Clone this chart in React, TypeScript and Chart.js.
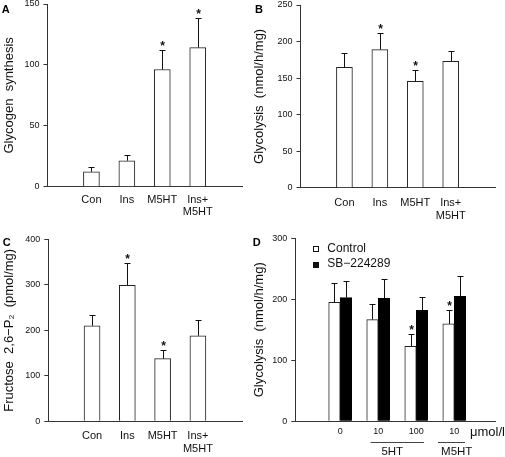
import React, { useEffect, useRef } from 'react';
import { Chart, registerables } from 'chart.js';

Chart.register(...registerables);

const FONT = "'Liberation Sans', Arial, Helvetica, sans-serif";
const AXIS = '#333333';
const TEXT = '#111111';

// ---- data ----
const treatmentLabels: (string | string[])[] = ['Con', 'Ins', 'M5HT', ['Ins+', 'M5HT']];

const glycogenMean = [12.3, 21.3, 96.2, 114.2];
const glycogenSem = [3.5, 4.7, 15.8, 24.6];
const glycogenSig = [false, false, true, true];

const glycolysisMean = [164.7, 188.9, 145.5, 172.9];
const glycolysisSem = [20.1, 22.8, 16.0, 13.7];
const glycolysisSig = [false, true, true, false];

const f26Mean = [210, 299, 137.7, 188];
const f26Sem = [23.7, 49.7, 18.3, 34.7];
const f26Sig = [false, true, true, false];

const doseLabels = ['0', '10', '100', '10'];
const controlMean = [195, 166.7, 123, 159.6];
const controlSem = [31.2, 25.1, 19.6, 23.4];
const controlSig = [false, false, true, true];
const sbMean = [202.7, 201.6, 182, 205];
const sbSem = [27.9, 31.7, 21.3, 32.7];
const sbSig = [false, false, false, false];

const seriesNames = ['Control', 'SB\u2212224289'];

// ---- plugins ----
const errorBarPlugin = {
  id: 'errbars',
  afterDatasetsDraw(chart: any) {
    const ctx = chart.ctx;
    const ys = chart.scales.y;
    chart.data.datasets.forEach((ds: any, di: number) => {
      const meta = chart.getDatasetMeta(di);
      meta.data.forEach((el: any, i: number) => {
        const v = ds.data[i].y;
        const e = ds.sem[i];
        const x = Math.round(el.x) + 0.5;
        const y0 = ys.getPixelForValue(v);
        const y1 = Math.round(ys.getPixelForValue(v + e)) + 0.5;
        ctx.save();
        ctx.strokeStyle = '#111';
        ctx.lineWidth = 1;
        ctx.beginPath();
        ctx.moveTo(x, y0);
        ctx.lineTo(x, y1);
        ctx.moveTo(x - 3, y1);
        ctx.lineTo(x + 3, y1);
        ctx.stroke();
        if (ds.sig[i]) {
          ctx.fillStyle = '#111';
          ctx.font = `bold 12px ${FONT}`;
          ctx.textAlign = 'center';
          ctx.textBaseline = 'alphabetic';
          ctx.fillText('*', x, y1 - 1);
        }
        ctx.restore();
      });
    });
  },
};

function letterPlugin(letter: string, lx: number, ly: number) {
  return {
    id: 'panelLetter',
    afterDraw(chart: any) {
      const ctx = chart.ctx;
      ctx.save();
      ctx.fillStyle = '#000';
      ctx.font = `bold 11px ${FONT}`;
      ctx.textAlign = 'left';
      ctx.textBaseline = 'alphabetic';
      ctx.fillText(letter, lx, ly);
      ctx.restore();
    },
  };
}

const panelDExtras = {
  id: 'panelDExtras',
  afterDraw(chart: any) {
    const ctx = chart.ctx;
    const xs = chart.scales.x;
    const ca = chart.chartArea;
    ctx.save();
    // legend
    const bx = ca.left + 18;
    const rows = [ca.top + 10, ca.top + 25.7];
    ctx.font = `12px ${FONT}`;
    ctx.textBaseline = 'middle';
    ctx.textAlign = 'left';
    ctx.fillStyle = TEXT;
    ctx.strokeStyle = '#111';
    ctx.lineWidth = 1;
    ctx.strokeRect(Math.round(bx) + 0.5, Math.round(rows[0] - 2.5) + 0.5, 5, 5);
    ctx.fillRect(Math.round(bx), Math.round(rows[1] - 2.5), 6, 6);
    ctx.fillText(seriesNames[0], bx + 14, rows[0]);
    ctx.fillText(seriesNames[1], bx + 14, rows[1]);

    // unit label
    const yLab = ca.bottom + 11;
    ctx.font = `13px ${FONT}`;
    ctx.fillText('\u03bcmol/l', xs.right - 25, yLab);

    // group brackets
    const yLine = Math.round(ca.bottom + 20.4) + 0.5;
    ctx.strokeStyle = '#444';
    ctx.beginPath();
    ctx.moveTo(xs.getPixelForValue(1) - 7.6, yLine);
    ctx.lineTo(xs.getPixelForValue(2) + 7.7, yLine);
    ctx.moveTo(xs.getPixelForValue(3) - 16.3, yLine);
    ctx.lineTo(xs.getPixelForValue(3) + 10.7, yLine);
    ctx.stroke();
    ctx.font = `11.5px ${FONT}`;
    ctx.textAlign = 'center';
    const yGrp = ca.bottom + 30.4;
    ctx.fillText('5HT', (xs.getPixelForValue(1) + xs.getPixelForValue(2)) / 2 - 5, yGrp);
    ctx.fillText('M5HT', xs.getPixelForValue(3) + 2.4, yGrp);
    ctx.restore();
  },
};

// ---- config builder ----
type Cfg = {
  datasets: any[];
  cats: (string | string[])[];
  yMax: number;
  yStep: number;
  yTitle: string;
  xMin: number;
  xMax: number;
  W: number;
  H: number;
  padTop: number;
  padRight: number;
  xPad: number;
  xFont: number;
  plugins: any[];
};

function makeConfig(p: Cfg): any {
  return {
    type: 'bar',
    data: { datasets: p.datasets },
    options: {
      responsive: false,
      animation: false,
      events: [],
      layout: { padding: { top: p.padTop, right: p.padRight, left: 0, bottom: 0 } },
      plugins: { legend: { display: false }, tooltip: { enabled: false } },
      scales: {
        x: {
          type: 'linear',
          min: p.xMin,
          max: p.xMax,
          offset: false,
          bounds: 'data',
          grid: { display: false, drawTicks: false, offset: false },
          border: { display: true, color: AXIS, width: 1 },
          ticks: {
            autoSkip: false,
            maxRotation: 0,
            minRotation: 0,
            padding: p.xPad,
            color: TEXT,
            font: { family: FONT, size: p.xFont, lineHeight: 1.12 },
            callback: (v: number) => p.cats[v] ?? '',
          },
          afterBuildTicks: (s: any) => {
            s.ticks = p.cats.map((_, i) => ({ value: i }));
          },
          afterFit: (s: any) => {
            s.height = p.H;
            s.paddingLeft = 0;
            s.paddingRight = 0;
          },
        },
        y: {
          min: 0,
          max: p.yMax,
          ticks: { stepSize: p.yStep, padding: 4, color: TEXT, font: { family: FONT, size: 9 } },
          grid: { drawOnChartArea: false, drawTicks: true, tickLength: 4, color: AXIS },
          border: { display: true, color: AXIS, width: 1 },
          title: {
            display: true,
            text: p.yTitle,
            color: TEXT,
            font: { family: FONT, size: 13 },
            padding: { top: 2, bottom: 0 },
          },
          afterFit: (s: any) => {
            s.width = p.W;
            s.paddingTop = 0;
            s.paddingBottom = 0;
          },
        },
      },
    },
    plugins: p.plugins,
  };
}

function openBars(mean: number[], sem: number[], sig: boolean[], label: string) {
  return {
    label,
    data: mean.map((v, i) => ({ x: i, y: v })),
    sem,
    sig,
    backgroundColor: '#ffffff',
    borderColor: '#222222',
    borderWidth: 1,
    barThickness: 16,
  };
}

const configs: { left: number; top: number; width: number; height: number; build: () => any }[] = [
  {
    left: 0, top: 0, width: 250, height: 225,
    build: () =>
      makeConfig({
        datasets: [openBars(glycogenMean, glycogenSem, glycogenSig, 'Glycogen synthesis')],
        cats: treatmentLabels, yMax: 150, yStep: 50, yTitle: 'Glycogen  synthesis',
        xMin: -1.24, xMax: 4.25, W: 47.5, H: 38.3, padTop: 4, padRight: 8, xPad: 7, xFont: 11,
        plugins: [errorBarPlugin, letterPlugin('A', 1.7, 12.9)],
      }),
  },
  {
    left: 250, top: 0, width: 255, height: 225,
    build: () =>
      makeConfig({
        datasets: [openBars(glycolysisMean, glycolysisSem, glycolysisSig, 'Glycolysis')],
        cats: treatmentLabels, yMax: 250, yStep: 50, yTitle: 'Glycolysis  (nmol/h/mg)',
        xMin: -1.24, xMax: 4.25, W: 50.5, H: 37.3, padTop: 5, padRight: 10, xPad: 9.5, xFont: 11,
        plugins: [errorBarPlugin, letterPlugin('B', 5, 12.9)],
      }),
  },
  {
    left: 0, top: 225, width: 250, height: 232,
    build: () =>
      makeConfig({
        datasets: [openBars(f26Mean, f26Sem, f26Sig, 'Fructose 2,6-P2')],
        cats: treatmentLabels, yMax: 400, yStep: 100, yTitle: 'Fructose  2,6\u2212P\u2082  (pmol/mg)',
        xMin: -1.24, xMax: 4.25, W: 48.3, H: 35.7, padTop: 14.3, padRight: 8, xPad: 9, xFont: 11,
        plugins: [errorBarPlugin, letterPlugin('C', 2.7, 20.8)],
      }),
  },
  {
    left: 250, top: 225, width: 255, height: 232,
    build: () =>
      makeConfig({
        datasets: [
          { ...openBars(controlMean, controlSem, controlSig, seriesNames[0]), barThickness: 11.5 },
          {
            label: seriesNames[1],
            data: sbMean.map((v, i) => ({ x: i, y: v })),
            sem: sbSem,
            sig: sbSig,
            backgroundColor: '#000000',
            borderColor: '#000000',
            borderWidth: 1,
            barThickness: 11.5,
          },
        ],
        cats: doseLabels, yMax: 300, yStep: 100, yTitle: 'Glycolysis  (nmol/h/mg)',
        xMin: -1.18, xMax: 4.07, W: 45.3, H: 35.7, padTop: 13.3, padRight: 10, xPad: 5.6, xFont: 9,
        plugins: [errorBarPlugin, letterPlugin('D', 2.7, 20.7), panelDExtras],
      }),
  },
];

function Panel(props: { left: number; top: number; width: number; height: number; build: () => any }) {
  const ref = useRef<HTMLCanvasElement>(null);
  useEffect(() => {
    if (!ref.current) return;
    const chart = new Chart(ref.current, props.build());
    return () => chart.destroy();
  }, []);
  return (
    <canvas
      ref={ref}
      width={props.width}
      height={props.height}
      style={{ position: 'absolute', left: props.left, top: props.top, width: props.width, height: props.height }}
    />
  );
}

export default function App() {
  return (
    <div style={{ position: 'absolute', left: 0, top: 0, width: 505, height: 457, background: '#fff' }}>
      {configs.map((c, i) => (
        <Panel key={i} {...c} />
      ))}
    </div>
  );
}
